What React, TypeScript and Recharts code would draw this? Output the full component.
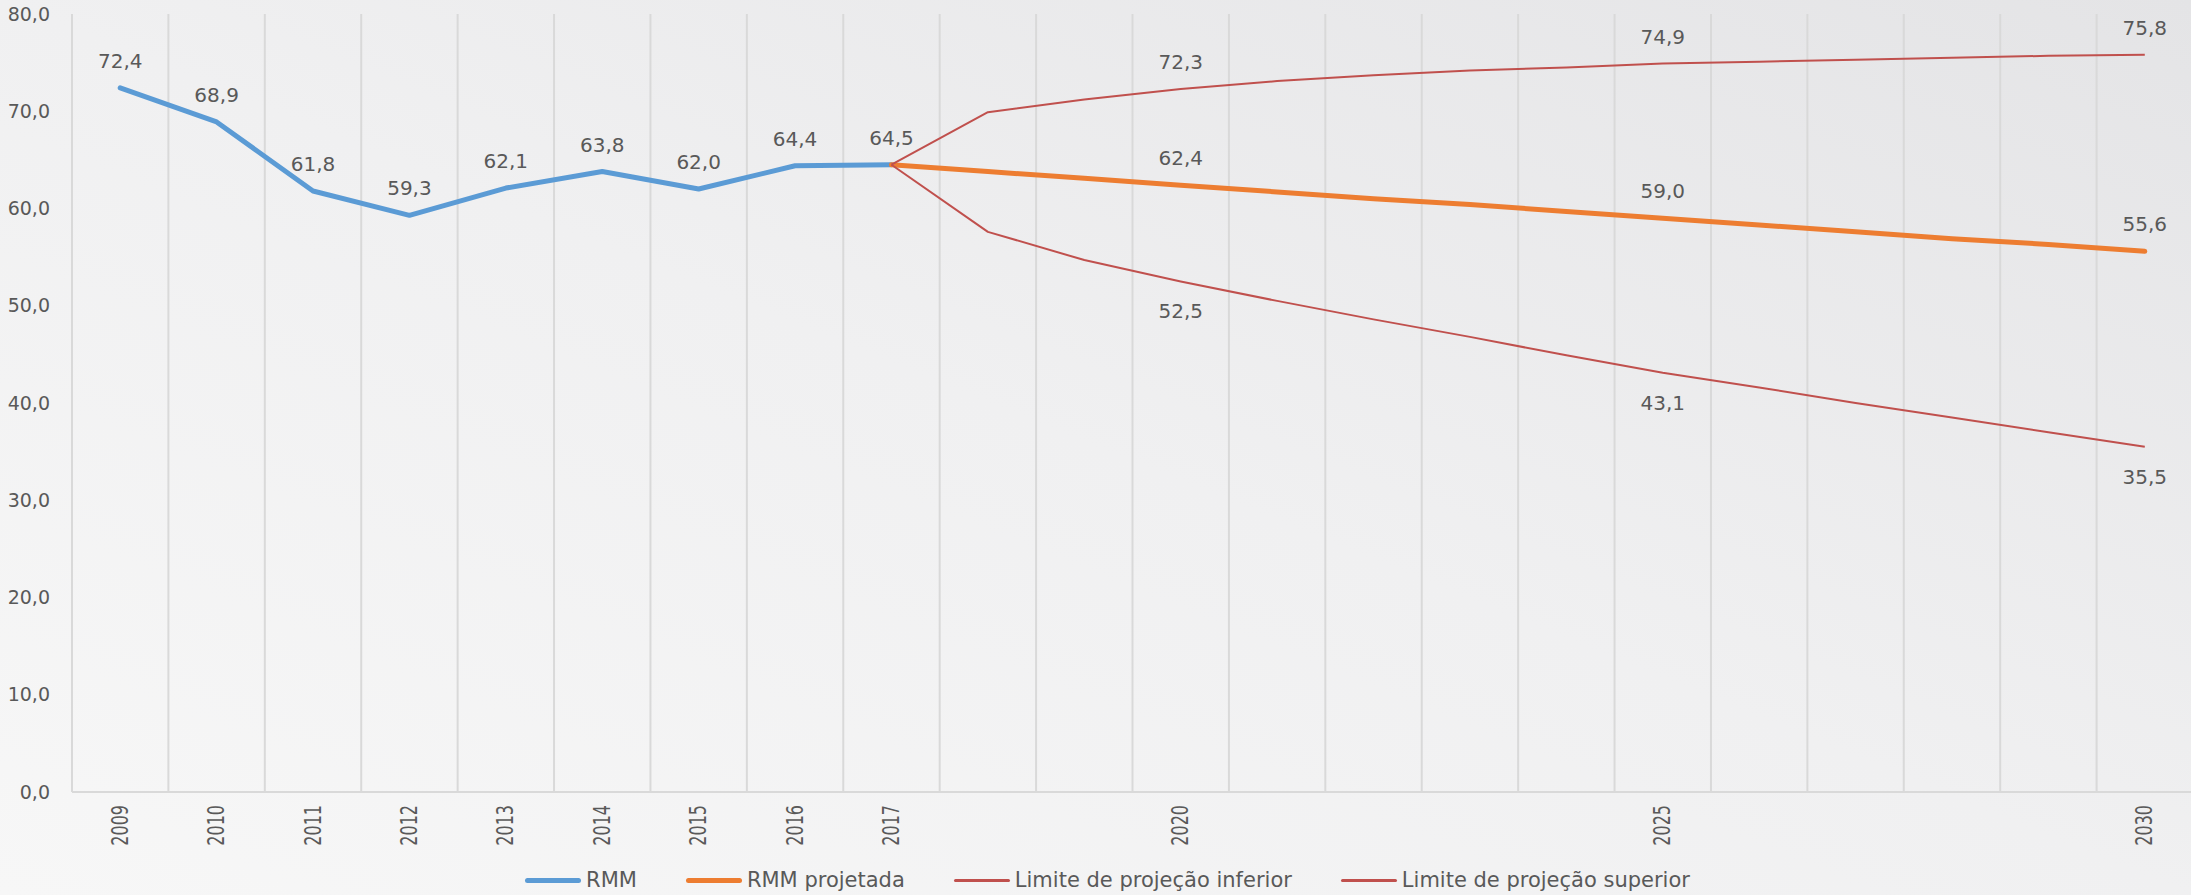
import React from 'react';
import { LineChart, Line, XAxis, YAxis, CartesianGrid, Legend, LabelList } from 'recharts';

// ---- data ----
const historicalYears = [2009, 2010, 2011, 2012, 2013, 2014, 2015, 2016, 2017];
const rmmValues = [72.4, 68.9, 61.8, 59.3, 62.1, 63.8, 62.0, 64.4, 64.5];

const projectionYears = [2017, 2018, 2019, 2020, 2021, 2022, 2023, 2024, 2025, 2026, 2027, 2028, 2029, 2030];
const projectedValues = [64.5, 63.8, 63.1, 62.4, 61.7, 61.0, 60.4, 59.7, 59.0, 58.3, 57.6, 56.9, 56.3, 55.6];
const lowerValues = [64.5, 57.6, 54.7, 52.5, 50.5, 48.6, 46.8, 44.9, 43.1, 41.6, 40.0, 38.5, 37.0, 35.5];
const upperValues = [64.5, 69.9, 71.2, 72.3, 73.1, 73.7, 74.2, 74.5, 74.9, 75.1, 75.3, 75.5, 75.7, 75.8];

const allYears = [2009, 2010, 2011, 2012, 2013, 2014, 2015, 2016, 2017, 2018, 2019, 2020, 2021, 2022, 2023, 2024, 2025, 2026, 2027, 2028, 2029, 2030];
const xTickYears = [2009, 2010, 2011, 2012, 2013, 2014, 2015, 2016, 2017, 2020, 2025, 2030];
const labeledProjectionYears = [2020, 2025, 2030];
const yTicks = [0, 10, 20, 30, 40, 50, 60, 70, 80];

const seriesNames = ['RMM', 'RMM projetada', 'Limite de projeção inferior', 'Limite de projeção superior'];

// ---- styles ----
const BLUE = '#5b9bd5';
const ORANGE = '#ed7d31';
const RED = '#c0504d';
const TEXT = '#595959';
const GRID = '#d9d9d9';
const FONT = '"DejaVu Sans", "Open Sans", sans-serif';

const lookup = (years: number[], values: number[], year: number) => {
  const i = years.indexOf(year);
  return i >= 0 ? values[i] : null;
};

const data = allYears.map((year) => ({
  year,
  rmm: lookup(historicalYears, rmmValues, year),
  projected: lookup(projectionYears, projectedValues, year),
  lower: lookup(projectionYears, lowerValues, year),
  upper: lookup(projectionYears, upperValues, year),
}));

const gridBoundaries = [...allYears.map((y) => y - 0.5), allYears[allYears.length - 1] + 0.5];
const xDomain = [gridBoundaries[0], gridBoundaries[gridBoundaries.length - 1]];

const fmt = (v: number) => v.toFixed(1).replace('.', ',');

const XTick = (props: any) => {
  const { x, y, payload } = props;
  return (
    <text
      transform={`translate(${x},${y}) rotate(-90) scale(1,1.45)`}
      textAnchor="end"
      dominantBaseline="central"
      fontSize={16}
      fontFamily={FONT}
      fill={TEXT}
    >
      {payload.value}
    </text>
  );
};

const makeLabel = (placement: 'above' | 'below', years: number[] | null) => (props: any) => {
  const { x, y, value, index } = props;
  if (value === null || value === undefined) return null;
  const row = data[index];
  if (years && row && !years.includes(row.year)) return null;
  const dy = placement === 'above' ? -27 : 30;
  return (
    <text
      x={x}
      y={y + dy}
      textAnchor="middle"
      dominantBaseline="central"
      fontSize={20}
      fontFamily={FONT}
      fill={TEXT}
    >
      {fmt(Number(value))}
    </text>
  );
};

const legendStyles = [
  { color: BLUE, thickness: 5 },
  { color: ORANGE, thickness: 5 },
  { color: RED, thickness: 3 },
  { color: RED, thickness: 3 },
];

const LegendContent = () => (
  <div
    style={{
      display: 'flex',
      justifyContent: 'center',
      alignItems: 'center',
      height: 30,
      paddingLeft: 22,
      fontFamily: FONT,
      fontSize: 21,
      color: TEXT,
      gap: 49,
    }}
  >
    {seriesNames.map((name, i) => (
      <div key={name} style={{ display: 'flex', alignItems: 'center', gap: 5 }}>
        <span
          style={{
            display: 'inline-block',
            width: 56,
            height: legendStyles[i].thickness,
            borderRadius: 3,
            background: legendStyles[i].color,
          }}
        />
        <span style={{ whiteSpace: 'nowrap' }}>{name}</span>
      </div>
    ))}
  </div>
);

export default function App() {
  return (
    <div
      style={{
        position: 'absolute',
        left: 0,
        top: 0,
        width: 2191,
        height: 895,
        overflow: 'hidden',
        background: 'linear-gradient(to top right, #f7f7f7 0%, #f0f0f1 50%, #e4e4e6 100%)',
      }}
    >
      <LineChart width={2200} height={895} data={data} margin={{ top: 14, right: 7, left: 0, bottom: 0 }}>
        <CartesianGrid xAxisId="grid" horizontal={false} vertical stroke={GRID} strokeWidth={2} />
        <XAxis
          xAxisId="main"
          dataKey="year"
          type="number"
          domain={xDomain}
          ticks={xTickYears}
          interval={0}
          height={73}
          tickLine={false}
          tickSize={0}
          tickMargin={13}
          axisLine={{ stroke: GRID, strokeWidth: 2 }}
          tick={<XTick />}
        />
        <XAxis
          xAxisId="grid"
          dataKey="year"
          type="number"
          domain={xDomain}
          ticks={gridBoundaries}
          height={0}
          hide
        />
        <YAxis
          domain={[0, 80]}
          ticks={yTicks}
          width={72}
          axisLine={false}
          tickLine={false}
          tickSize={0}
          tickMargin={22}
          tickFormatter={fmt}
          tick={{ fontSize: 19, fontFamily: FONT, fill: TEXT }}
        />
        <Legend verticalAlign="bottom" content={<LegendContent />} />
        <Line
          xAxisId="main"
          dataKey="rmm"
          name={seriesNames[0]}
          stroke={BLUE}
          strokeWidth={5}
          strokeLinecap="round"
          strokeLinejoin="round"
          dot={false}
          isAnimationActive={false}
        >
          <LabelList dataKey="rmm" content={makeLabel('above', null)} />
        </Line>
        <Line
          xAxisId="main"
          dataKey="projected"
          name={seriesNames[1]}
          stroke={ORANGE}
          strokeWidth={5}
          strokeLinecap="round"
          strokeLinejoin="round"
          dot={false}
          isAnimationActive={false}
        >
          <LabelList dataKey="projected" content={makeLabel('above', labeledProjectionYears)} />
        </Line>
        <Line
          xAxisId="main"
          dataKey="lower"
          name={seriesNames[2]}
          stroke={RED}
          strokeWidth={2}
          strokeLinejoin="round"
          dot={false}
          isAnimationActive={false}
        >
          <LabelList dataKey="lower" content={makeLabel('below', labeledProjectionYears)} />
        </Line>
        <Line
          xAxisId="main"
          dataKey="upper"
          name={seriesNames[3]}
          stroke={RED}
          strokeWidth={2}
          strokeLinejoin="round"
          dot={false}
          isAnimationActive={false}
        >
          <LabelList dataKey="upper" content={makeLabel('above', labeledProjectionYears)} />
        </Line>
      </LineChart>
    </div>
  );
}
